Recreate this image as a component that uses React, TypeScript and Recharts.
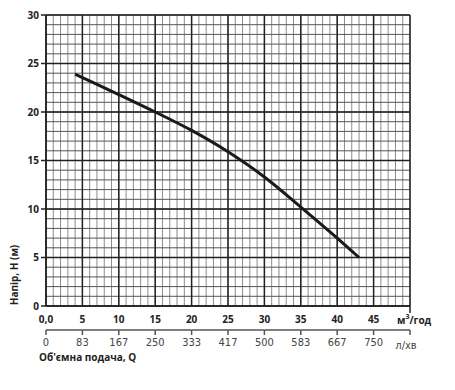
import { LineChart, Line, XAxis, YAxis, CartesianGrid } from 'recharts';

const flowM3h = [4, 5, 10, 15, 20, 25, 30, 35, 40, 43];
const headM = [23.9, 23.55, 21.8, 20.0, 18.1, 15.9, 13.3, 10.2, 7.0, 5.0];

const headTicks = [0, 5, 10, 15, 20, 25, 30];
const flowTicks = [0, 5, 10, 15, 20, 25, 30, 35, 40, 45, 50];
const flowLabels = ['0,0', '5', '10', '15', '20', '25', '30', '35', '40', '45', ''];
const lpmLabels = ['0', '83', '167', '250', '333', '417', '500', '583', '667', '750', 'л/хв'];

const minorX = Array.from({ length: 51 }, (_, i) => i);
const minorY = Array.from({ length: 31 }, (_, i) => i);

const data = flowM3h.map((q, i) => ({ q, h: headM[i] }));

const boldFont = "'Open Sans', 'DejaVu Sans', sans-serif";
const narrowFont = "'Liberation Sans Narrow', 'DejaVu Sans Condensed', 'Liberation Sans', sans-serif";

// spacing between two major ticks in px (plot width / 10)
const step = 36.4;

function FlowTick(props: any) {
  const { x, y, index } = props;
  const last = index === flowTicks.length - 1;
  const axisY = y + 14; // second (л/хв) axis line
  return (
    <g>
      {last ? (
        <g>
          <line x1={x} x2={x} y1={y - 10} y2={y - 3} stroke="#222" strokeWidth={1.5} />
          <text x={x - 13} y={y + 8} fontFamily={boldFont} fontWeight={700} fontSize={10} fill="#222">
            м<tspan dy={-5} fontSize={7}>3</tspan><tspan dy={5}>/год</tspan>
          </text>
        </g>
      ) : (
        <text x={x} y={y} dy="0.71em" textAnchor="middle" fontFamily={boldFont} fontWeight={700} fontSize={10} fill="#222">
          {flowLabels[index]}
        </text>
      )}
      {!last && <line x1={x} x2={x + step} y1={axisY} y2={axisY} stroke="#555" strokeWidth={1.5} />}
      <line x1={x} x2={x} y1={axisY} y2={axisY + 5} stroke="#555" strokeWidth={1.5} />
      <text
        x={last ? x - 4 : x}
        y={last ? axisY + 11 : axisY + 8}
        dy="0.71em"
        textAnchor="middle"
        fontFamily={narrowFont}
        fontSize={11}
        fill="#444"
      >
        {lpmLabels[index]}
      </text>
    </g>
  );
}

export default function App() {
  return (
    <div style={{ position: 'absolute', left: 0, top: 0, background: '#fff' }}>
      <LineChart width={455} height={390} data={data} margin={{ top: 15, right: 45, bottom: 0, left: 0 }}>
        <CartesianGrid horizontal={false} verticalValues={minorX} stroke="#8c8c8c" strokeWidth={1} />
        <CartesianGrid vertical={false} horizontalValues={minorY} stroke="#555" strokeWidth={1} />
        <CartesianGrid verticalValues={flowTicks} horizontalValues={headTicks} stroke="#222" strokeWidth={1.5} />
        <XAxis
          dataKey="q"
          type="number"
          domain={[0, 50]}
          ticks={flowTicks}
          interval={0}
          height={84}
          tickSize={0}
          tickMargin={10}
          axisLine={{ stroke: '#222', strokeWidth: 1.5 }}
          tick={<FlowTick />}
          label={{
            content: () => (
              <text x={39} y={361} fontFamily={boldFont} fontWeight={700} fontSize={10} fill="#222">
                Об'ємна подача, Q
              </text>
            ),
          }}
        />
        <YAxis
          type="number"
          domain={[0, 30]}
          ticks={headTicks}
          interval={0}
          width={46}
          tickSize={5}
          tickMargin={2}
          axisLine={{ stroke: '#222', strokeWidth: 1.5 }}
          tickLine={{ stroke: '#222', strokeWidth: 1.5 }}
          tick={{ fontFamily: boldFont, fontWeight: 700, fontSize: 10, fill: '#222' }}
          label={{
            content: () => (
              <text x={18} y={275} transform="rotate(-90 18 275)" textAnchor="middle" fontFamily={boldFont} fontWeight={700} fontSize={10} fill="#222">
                Напір, H (м)
              </text>
            ),
          }}
        />
        <Line type="monotone" dataKey="h" stroke="#1a1a1a" strokeWidth={3} dot={false} isAnimationActive={false} />
      </LineChart>
    </div>
  );
}
